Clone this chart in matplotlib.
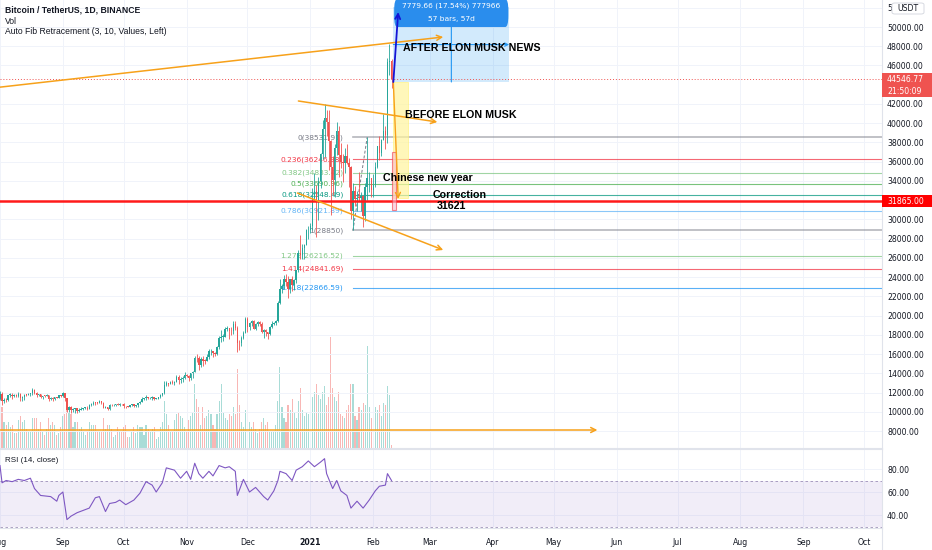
import numpy as np
import pandas as pd
import matplotlib
matplotlib.use('Agg')
import matplotlib.pyplot as plt
from matplotlib.patches import Rectangle, FancyBboxPatch

plt.rcParams['font.family'] = ['DejaVu Sans']

# BTCUSDT daily candles, 2020-08-01 .. 2021-02-10
start = pd.Timestamp('2020-08-01')
prev_close = 11351

close_aug = [11801, 11071, 11219, 11191, 11744, 11762, 11594, 11761, 11681, 11892, 11393, 11565, 11780, 11760, 11853, 11911,
             12281, 11945, 11755, 11866, 11522, 11669, 11655, 11754, 11346, 11471, 11330, 11526, 11466, 11711, 11650]
high_aug = [12123, 12034, 11473, 11417, 11787, 11914, 11909, 11808, 11807, 12067, 11939, 11617, 11800, 11850, 11985, 11934,
            12468, 12400, 12022, 11886, 11886, 11685, 11713, 11822, 11768, 11528, 11585, 11545, 11580, 11725, 11760]
low_aug = [11239, 10660, 10936, 11000, 11080, 11562, 11355, 11509, 11559, 11524, 11125, 11153, 11257, 11665, 11700, 11671,
           11759, 11800, 11570, 11660, 11486, 11375, 11515, 11594, 11120, 11261, 11130, 11270, 11440, 11450, 11580]

close_sep = [11924, 11389, 10171, 10473, 10169, 10255, 10373, 10127, 10222, 10336, 10391, 10443, 10329, 10677, 10788,
             10955, 10940, 10933, 11080, 10920, 10419, 10530, 10241, 10737, 10692, 10740, 10775, 10709, 10845, 10777]
high_sep = [12050, 11950, 11450, 10590, 10575, 10345, 10399, 10440, 10350, 10490, 10430, 10480, 10580, 10790, 10940,
            11100, 11040, 11020, 11180, 11060, 10990, 10570, 10545, 10780, 10785, 10810, 10800, 10950, 10865, 10845]
low_sep = [11515, 11160, 10005, 9960, 9875, 9993, 9880, 9850, 10010, 10195, 10200, 10265, 10220, 10250, 10610,
           10670, 10745, 10810, 10890, 10780, 10350, 10350, 10140, 10200, 10580, 10650, 10620, 10660, 10640, 10690]

close_oct = [10620, 10570, 10542, 10667, 10787, 10599, 10669, 10927, 11063, 11296, 11384, 11541, 11425, 11426, 11505, 11323,
             11360, 11503, 11748, 11914, 12823, 12965, 12931, 13108, 13031, 13075, 13654, 13271, 13455, 13561, 13791]
high_oct = [10910, 10640, 10600, 10690, 10800, 10800, 10690, 10960, 11110, 11490, 11440, 11730, 11560, 11560, 11630, 11540,
            11420, 11530, 11830, 12000, 13230, 13200, 13030, 13170, 13350, 13250, 13790, 13860, 13650, 13670, 14100]
low_oct = [10440, 10370, 10480, 10520, 10630, 10530, 10540, 10530, 10830, 11050, 11260, 11220, 11310, 11280, 11270, 11200,
           11310, 11330, 11420, 11680, 11900, 12700, 12720, 12890, 12900, 12800, 13050, 12900, 12990, 13120, 13420]

close_nov = [13761, 13550, 14023, 14145, 15590, 15580, 14833, 15479, 15332, 15290, 15701, 16276, 16317, 16070, 15957,
             16713, 17659, 17776, 17803, 18655, 18704, 18413, 18368, 19160, 18720, 17149, 17139, 17720, 18185, 19695]
high_nov = [13900, 13830, 14070, 14250, 15750, 15960, 15770, 15650, 15840, 15470, 15960, 16480, 16480, 16330, 16170,
            16880, 17860, 18480, 18130, 18810, 18970, 18700, 18770, 19420, 19480, 18900, 17460, 17880, 18350, 19860]
low_nov = [13620, 13200, 13290, 13530, 14100, 15180, 14340, 14700, 14810, 14970, 15280, 15440, 15950, 15700, 15800,
           15870, 16550, 17210, 17330, 17740, 18360, 17610, 18000, 18040, 18480, 16200, 16450, 16880, 17520, 18180]

close_dec = [18765, 19204, 19422, 18651, 19148, 19360, 19167, 18324, 18541, 18255, 18036, 18809, 19175, 19273, 19427, 21335,
             22797, 23107, 23821, 23455, 22719, 23810, 23232, 23729, 24712, 26493, 26281, 27079, 27385, 28876, 28923]
high_dec = [19890, 19310, 19590, 19530, 19180, 19420, 19420, 19290, 18640, 18560, 18290, 18950, 19410, 19350, 19570, 21560,
            23800, 23280, 24170, 24300, 24100, 23840, 24100, 23800, 24790, 26870, 28420, 27420, 27410, 28990, 29300]
low_dec = [18330, 18470, 18900, 18570, 18500, 18900, 18900, 18200, 17650, 17910, 17570, 18020, 18710, 19000, 19050, 19290,
           21230, 22350, 22750, 23060, 21820, 22350, 22600, 22700, 23440, 24500, 25860, 25880, 25880, 27320, 28000]

close_jan = [29331, 32178, 33000, 31988, 33949, 36769, 39432, 40582, 40088, 38150, 35404, 34051, 37371, 39144, 36742, 35994,
             35828, 36631, 35891, 35468, 30850, 32945, 32078, 32259, 32254, 32467, 30366, 33364, 34252, 34262, 33092]
high_jan = [29600, 33300, 34780, 33600, 34360, 36940, 40370, 41950, 41380, 41350, 38260, 36630, 37850, 40100, 39700, 37950,
            36850, 37400, 37850, 36400, 35600, 33830, 33460, 32940, 34880, 32900, 32550, 33780, 38531, 34930, 34290]
low_jan = [28620, 28950, 31960, 28130, 29900, 33290, 36300, 36500, 38720, 35110, 30420, 32530, 32380, 36700, 34410, 35360,
           33850, 34800, 35800, 33400, 30070, 28850, 31390, 30900, 31910, 30840, 29240, 29840, 31990, 32825, 32300]

close_feb = [33526, 35466, 37618, 36936, 38290, 39186, 38795, 46374, 46420, 44547]
high_feb = [34720, 35980, 37660, 38700, 38310, 40955, 39700, 46750, 48200, 46700]
low_feb = [32290, 33420, 35360, 36160, 36570, 38215, 37350, 37990, 45000, 43700]

# volume, thousand BTC
vol_aug = [85, 95, 60, 55, 60, 50, 55, 35, 35, 65, 75, 60, 65, 45, 40, 40, 70, 70, 70, 45, 60, 40, 30, 45, 70, 55, 60, 55, 30, 35, 50]
vol_sep = [75, 80, 90, 85, 80, 50, 60, 60, 45, 50, 40, 30, 40, 60, 55, 55, 55, 40, 40, 40, 70, 45, 55, 55, 45, 25, 30, 50, 40, 40]
vol_oct = [50, 55, 25, 25, 40, 50, 35, 55, 50, 50, 30, 55, 45, 40, 45, 50, 20, 25, 50, 60, 110, 80, 55, 40, 40, 65, 80, 85, 75, 70, 50]
vol_nov = [40, 65, 75, 85, 150, 115, 95, 55, 95, 70, 75, 90, 80, 55, 45, 80, 110, 150, 85, 70, 65, 80, 75, 95, 80, 185, 100, 60, 50, 90]
vol_dec = [110, 60, 50, 60, 45, 35, 45, 60, 70, 55, 60, 40, 40, 40, 55, 110, 190, 95, 70, 60, 100, 90, 115, 85, 70, 110, 140, 90, 75, 85, 80]
vol_jan = [85, 120, 130, 150, 125, 115, 130, 145, 100, 120, 260, 140, 120, 110, 130, 80, 75, 70, 90, 100, 150, 150, 75, 65, 95, 90, 105, 100, 240, 95, 70]
vol_feb = [80, 95, 90, 100, 75, 105, 100, 145, 125, 6]

# RSI(14): day offset from Aug 1, value
rsi_day = [0, 1, 3, 6, 9, 12, 15, 17, 20, 25, 28, 29, 31, 33, 35, 38, 41, 44, 47, 49, 52, 54, 57, 59, 62, 66, 69, 72, 75,
           77, 80, 82, 84, 86, 89, 92, 94, 96, 98, 100, 103, 105, 108, 111, 113, 116, 117, 120, 123, 126, 130, 132, 135,
           137, 138, 141, 144, 146, 149, 152, 155, 158, 160, 161, 164, 166, 168, 171, 173, 176, 179, 182, 185, 187, 190,
           191, 193]
rsi_val = [83, 68, 70, 69, 71, 70, 72, 63, 57, 56, 52, 57, 60, 36, 39, 42, 44, 46, 55, 56, 43, 50, 51, 53, 49, 53, 59, 69, 66,
           60, 68, 81, 80, 79, 72, 78, 71, 85, 76, 72, 78, 74, 83, 81, 82, 78, 57, 71, 60, 64, 56, 53, 61,
           70, 78, 76, 70, 79, 82, 87, 82, 86, 89, 76, 63, 70, 61, 57, 46, 52, 46, 53, 61, 65, 66,
           76, 70]

# auto fib levels
fib_ratio = ['0', '0.236', '0.382', '0.5', '0.618', '0.786', '1', '1.272', '1.414', '1.618']
fib_price = [38531.91, 36246.98, 34833.42, 33690.96, 32548.49, 30921.89, 28850, 26216.52, 24841.69, 22866.59]
fib_color = ['#787b86', '#f23645', '#81c784', '#4caf50', '#089981', '#64b5f6', '#787b86', '#81c784', '#f23645', '#2196f3']

price_ticks = [8000, 10000, 12000, 14000, 16000, 18000, 20000, 22000, 24000, 26000, 28000, 30000,
               34000, 36000, 38000, 40000, 42000, 46000, 48000, 50000, 52000]
month_labels = ['Aug', 'Sep', 'Oct', 'Nov', 'Dec', '2021', 'Feb', 'Mar', 'Apr', 'May', 'Jun', 'Jul', 'Aug', 'Sep', 'Oct']

last_price = 44546.77
red_level = 31865

closes = np.array(close_aug + close_sep + close_oct + close_nov + close_dec + close_jan + close_feb, float)
highs = np.array(high_aug + high_sep + high_oct + high_nov + high_dec + high_jan + high_feb, float)
lows = np.array(low_aug + low_sep + low_oct + low_nov + low_dec + low_jan + low_feb, float)
vols = np.array(vol_aug + vol_sep + vol_oct + vol_nov + vol_dec + vol_jan + vol_feb, float)
opens = np.concatenate([[prev_close], closes[:-1]])
x = np.arange(len(closes))
up = closes >= opens

UP, DN = '#26a69a', '#ef5350'
TXT = '#131722'
ORANGE = '#f7a11a'
GRID = '#f0f3fa'
SANS = ['Liberation Sans', 'DejaVu Sans']

W, H = 932, 550
fig = plt.figure(figsize=(W / 100, H / 100), dpi=100)
fig.patch.set_facecolor('white')


def fx(px):
    return px / W


def fy(py):
    return 1 - py / H


ax = fig.add_axes([0, fy(448), fx(882), 448 / H])
axr = fig.add_axes([0, fy(528), fx(882), 79 / H], sharex=ax)
axv = ax.twinx()
ax.set_zorder(axv.get_zorder() + 1)
ax.patch.set_visible(False)

xmin, xmax = 0.29, 434.8
ax.set_xlim(xmin, xmax)
ax.set_ylim(6237, 52807)

# volume
axv.set_ylim(0, 1049)
axv.bar(x, vols, width=0.55, color=np.where(up, '#a9dcd7', '#f8b7b5'), linewidth=0)
axv.set_yticks([])
for s in axv.spines.values():
    s.set_visible(False)

# grid + axis
months = pd.date_range('2020-08-01', '2021-10-01', freq='MS')
mpos = (months - start).days.values
ax.set_xticks(mpos)
ax.set_yticks(price_ticks)
ax.set_yticklabels(['%.2f' % t for t in price_ticks])
ax.yaxis.tick_right()
ax.tick_params(axis='y', length=0, pad=3.6, labelsize=5.6, colors=TXT)
ax.tick_params(axis='x', length=0, labelbottom=False)
ax.grid(True, color=GRID, lw=0.7)
ax.set_axisbelow(True)
for k in ['top', 'left']:
    ax.spines[k].set_visible(False)
ax.spines['right'].set_color('#e0e3eb')
ax.spines['bottom'].set_color('#e0e3eb')

# candles
ax.vlines(x, lows, highs, colors=np.where(up, UP, DN), lw=0.6, zorder=3)
body = np.abs(closes - opens)
ax.bar(x, np.maximum(body, 60), bottom=np.minimum(opens, closes), width=0.7,
       color=np.where(up, UP, DN), linewidth=0, zorder=4)

# fib levels (labels sit under the candles)
fib_x0 = 174
for r, p, c in zip(fib_ratio, fib_price, fib_color):
    lw = 1.2 if r in ('0', '1') else 0.8
    ax.plot([fib_x0, xmax], [p, p], color=c, lw=lw, alpha=0.75 if r not in ('0', '1') else 0.55, zorder=2)
    lab = '%s(%s)' % (r, ('%.2f' % p) if r != '1' else '%d' % p)
    ax.text(169.3, p, lab, color=c, fontsize=5.4, ha='right', va='center', zorder=2.5)
ax.plot([174, 181], [28850, 38531.91], color='#787b86', lw=0.7, ls=(0, (3, 2)), zorder=2)

# horizontal red level and last price line
ax.axhline(red_level, color='#ff1a1a', lw=1.8, zorder=6)
ax.axhline(last_price, color=DN, lw=0.7, ls=(0, (1, 2)), zorder=2)

# drawings
arrow = dict(arrowstyle='->', color=ORANGE, lw=1.1, mutation_scale=9, shrinkA=0, shrinkB=0)
ax.annotate('', xy=(218.5, 48960), xytext=(-2, 43700), arrowprops=arrow, zorder=7, annotation_clip=False)
ax.annotate('', xy=(215.6, 40125), xytext=(147.1, 42308), arrowprops=arrow, zorder=7)
ax.annotate('', xy=(218.5, 26819), xytext=(146.6, 32744), arrowprops=arrow, zorder=7)
ax.annotate('', xy=(294.5, 8108), xytext=(-2, 8108), arrowprops=arrow, zorder=7, annotation_clip=False)

# yellow box with down arrow
ax.add_patch(Rectangle((193.9, 32225), 7.4, 44283 - 32225, facecolor='#fff59d', edgecolor='#fff176',
                       alpha=0.7, lw=0.6, zorder=5))
ax.annotate('', xy=(196.3, 32120), xytext=(193.9, 44283),
            arrowprops=dict(arrowstyle='->', color=ORANGE, lw=1.0, mutation_scale=9, shrinkA=0, shrinkB=0), zorder=7)
# pink box
ax.add_patch(Rectangle((193.1, 30977), 2.3, 37006 - 30977, facecolor='#f8bbd0', edgecolor='#f23645',
                       alpha=0.6, lw=0.8, zorder=6))

# date/price range
ax.add_patch(Rectangle((193.9, 44283), 57.1, 52063 - 44283, facecolor='#2196f3', alpha=0.2, lw=0, zorder=1))
ax.annotate('', xy=(222.5, 52063), xytext=(222.5, 44283),
            arrowprops=dict(arrowstyle='->', color='#2196f3', lw=0.8, mutation_scale=6, shrinkA=0, shrinkB=0), zorder=2)
ax.annotate('', xy=(251.0, 48173), xytext=(193.9, 48173),
            arrowprops=dict(arrowstyle='->', color='#2196f3', lw=0.8, mutation_scale=6, shrinkA=0, shrinkB=0), zorder=2)
ax.add_patch(FancyBboxPatch((194.3, 50000), 56.3, 2900, boxstyle='round,pad=0,rounding_size=1.5',
                            mutation_aspect=800, facecolor='#2a8ded', edgecolor='none', zorder=8, clip_on=False))
ax.text(222.5, 52183, '7779.66 (17.54%) 777966', color='white', fontsize=5.4, ha='center', va='center', zorder=9)
ax.text(222.5, 50832, '57 bars, 57d', color='white', fontsize=5.4, ha='center', va='center', zorder=9)
ax.annotate('', xy=(196.3, 51559), xytext=(193.9, 44283),
            arrowprops=dict(arrowstyle='->', color='#1414d6', lw=1.3, mutation_scale=9, shrinkA=0, shrinkB=0), zorder=9)

# text notes
note = dict(fontsize=7.7, fontweight='bold', color='black', family=SANS, va='center', ha='left', zorder=10)
ax.text(198.8, 47817, 'AFTER ELON MUSK NEWS', **note)
ax.text(199.8, 40852, 'BEFORE ELON MUSK', **note)
ax.text(189.0, 34304, 'Chinese new year', **note)
ax.text(213.1, 32536, 'Correction', **note)
ax.text(215.1, 31393, '31621', **note)

# right price labels
yt = ax.get_yaxis_transform()
for lo, hi, col, lab in [(43867, 45218, DN, '44546.77'), (42723, 43867, DN, '21:50:09'),
                         (31289, 32536, '#ff0000', '31865.00')]:
    ax.add_patch(Rectangle((1.0, lo), 50 / 882, hi - lo, transform=yt, facecolor=col, edgecolor='none',
                           clip_on=False, zorder=10))
    ax.text(1.0 + 5 / 882, (lo + hi) / 2, lab, transform=yt, color='white', fontsize=5.6,
            ha='left', va='center', zorder=11, clip_on=False)
# currency tag over the top price label
fig.add_artist(FancyBboxPatch((fx(892), fy(14)), fx(32), 11 / H, boxstyle='round,pad=0,rounding_size=0.003',
                              transform=fig.transFigure, facecolor='white', edgecolor='#d1d4dc', lw=0.6, zorder=20))
fig.text(fx(908), fy(8.5), 'USDT', fontsize=5.6, color=TXT, ha='center', va='center', zorder=21)

# header
fig.text(fx(5), fy(10), 'Bitcoin / TetherUS, 1D, BINANCE', fontsize=6.2, fontweight='bold', color=TXT,
         va='center', family=SANS)
fig.text(fx(5), fy(21), 'Vol', fontsize=6.2, color=TXT, va='center', family=SANS)
fig.text(fx(5), fy(32), 'Auto Fib Retracement (3, 10, Values, Left)', fontsize=6.2, color=TXT, va='center',
         family=SANS)

# RSI pane
axr.set_ylim(28.7, 97.4)
axr.axhspan(30, 70, color='#7e57c2', alpha=0.1, lw=0)
axr.axhline(70, color='#9d8fb8', lw=0.6, ls=(0, (3, 3)))
axr.axhline(30, color='#9d8fb8', lw=0.6, ls=(0, (3, 3)))
axr.plot(rsi_day, rsi_val, color='#7e57c2', lw=0.8)
axr.set_yticks([40, 60, 80])
axr.set_yticklabels(['40.00', '60.00', '80.00'])
axr.yaxis.tick_right()
axr.tick_params(axis='y', length=0, pad=3.6, labelsize=5.6, colors=TXT)
axr.set_xticks(mpos)
axr.set_xticklabels(month_labels)
axr.tick_params(axis='x', length=0, pad=7, labelsize=5.6, colors=TXT)
axr.get_xticklabels()[5].set_fontweight('bold')
axr.grid(True, color=GRID, lw=0.7)
axr.set_axisbelow(True)
axr.spines['left'].set_visible(False)
for k in ['top', 'right', 'bottom']:
    axr.spines[k].set_color('#e0e3eb')
axr.text(0.006, 0.86, 'RSI (14, close)', transform=axr.transAxes, fontsize=5.8, color=TXT, va='center', family=SANS)
fig.add_artist(plt.Line2D([fx(882), fx(882)], [0, fy(528)], color='#e0e3eb', lw=0.8))

fig.savefig('out.png', dpi=100, facecolor='white')
